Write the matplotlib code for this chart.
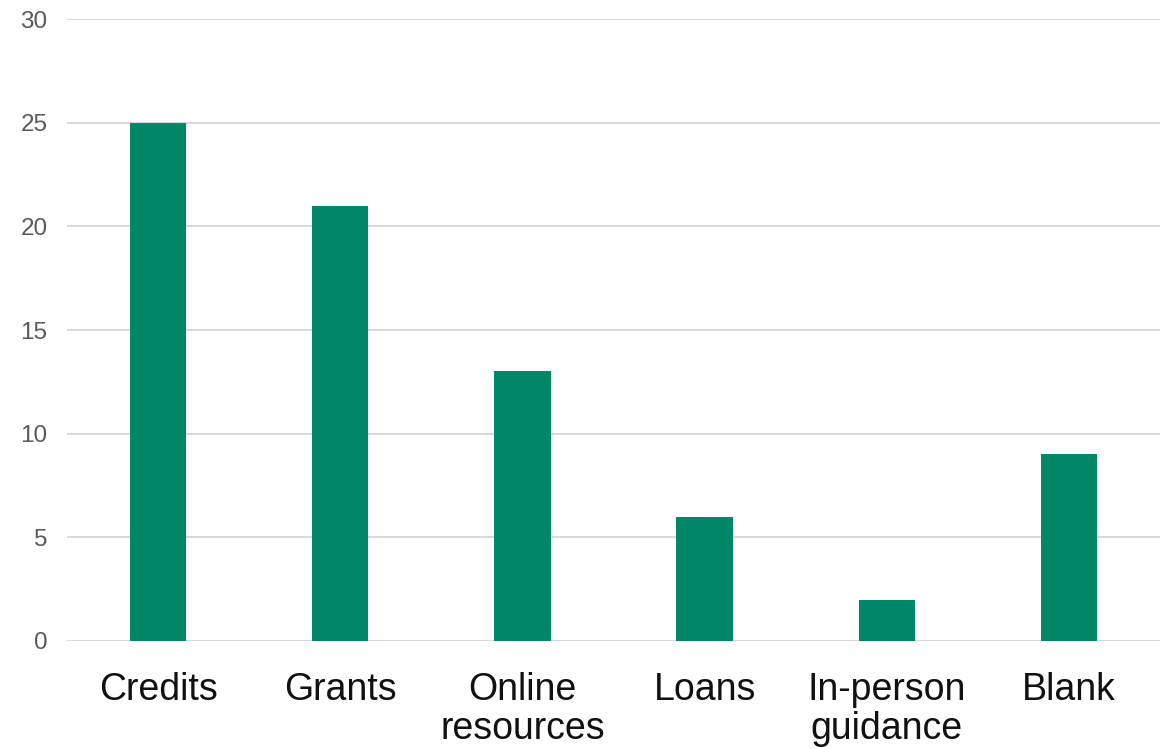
import matplotlib
matplotlib.use("Agg")
import matplotlib.pyplot as plt

categories = ["Credits", "Grants", "Online\nresources", "Loans", "In-person\nguidance", "Blank"]
values = [25, 21, 13, 6, 2, 9]
yticks = [0, 5, 10, 15, 20, 25, 30]

plt.rcParams['font.family'] = ['Liberation Sans', 'DejaVu Sans']

fig = plt.figure(figsize=(11.71, 7.49), dpi=100)
ax = fig.add_axes([0.0572, 0.1442, 0.9334, 0.8304])

x = range(len(categories))
ax.bar(x, values, width=0.31, color="#008767", zorder=3)
ax.set_xlim(-0.5, len(categories) - 0.5)
ax.set_ylim(0, 30)
ax.set_yticks(yticks)
ax.set_yticklabels([str(v) for v in yticks], fontsize=17.5, color="#595959")
ax.set_xticks(list(x))
ax.set_xticklabels(categories, fontsize=27, color="#111111", linespacing=1.12)
ax.tick_params(axis="y", length=0, pad=14)
ax.tick_params(axis="x", length=0, pad=22)
ax.grid(axis="y", color="#d9d9d9", linewidth=1.5, zorder=0)
for s in ax.spines.values():
    s.set_visible(False)

fig.savefig("out.png", dpi=100)
